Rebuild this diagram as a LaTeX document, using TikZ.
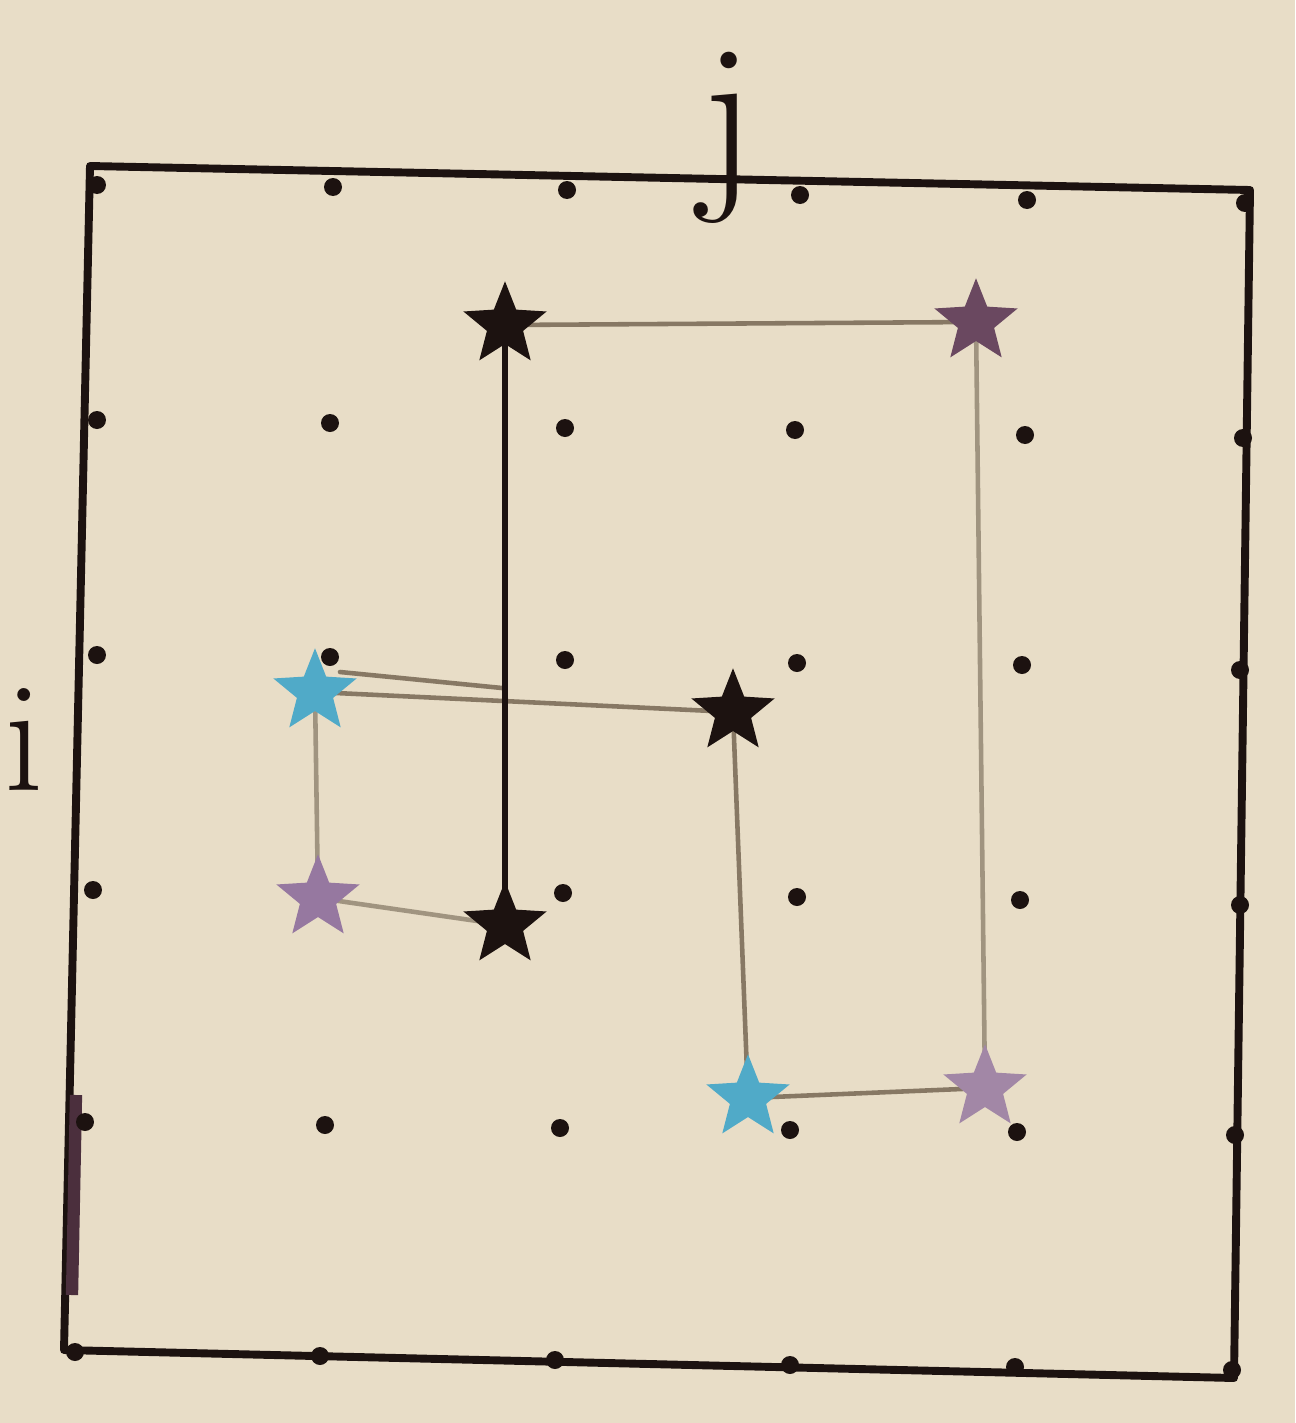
\documentclass[tikz,border=0pt]{standalone}
\usetikzlibrary{shapes.geometric}
\definecolor{paper}{RGB}{232,221,199}
\definecolor{ink}{RGB}{28,18,16}
\definecolor{pencil}{RGB}{135,120,100}
\definecolor{lightpencil}{RGB}{160,148,128}
\definecolor{cyanstar}{RGB}{80,170,200}
\definecolor{purplestar}{RGB}{150,120,160}
\definecolor{darkpurple}{RGB}{95,60,80}
\begin{document}
\begin{tikzpicture}[x=0.02cm,y=-0.02cm,
  dot/.style={circle,fill=ink,inner sep=0pt,minimum size=0.36cm},
  mark/.style={star,star points=5,star point ratio=2.3,inner sep=0pt,minimum size=1.75cm,fill=#1},
  outer/.style={draw=ink,line width=4.5pt,line join=round,line cap=round},
  inner/.style={draw=pencil,line width=2.6pt,line cap=round},
  label/.style={text=ink,inner sep=0pt,anchor=base}]
\fill[paper] (0,0) rectangle (1295,1423);
\useasboundingbox (0,0) rectangle (1295,1423);
% outer square
\coordinate (o1) at (90,166);
\coordinate (o2) at (1250,190);
\coordinate (o3) at (1234,1378);
\coordinate (o4) at (64,1350);
\draw[outer] (o1) -- (o2) -- (o3) -- (o4) -- cycle;
\coordinate (l1) at (76,1095);
\coordinate (l2) at (72,1295);
\draw[draw=darkpurple!70!ink,line width=7pt] (l1) -- (l2);
% grid dots
\foreach \x/\y/\n in {
  97/185/11,333/187/12,567/190/13,800/195/14,1027/200/15,1245/203/16,
  97/420/21,330/423/22,565/428/23,795/430/24,1025/435/25,1243/438/26,
  97/655/31,330/657/32,565/660/33,797/663/34,1022/665/35,1240/670/36,
  93/890/41,330/893/42,563/893/43,797/897/44,1020/900/45,1240/905/46,
  85/1122/51,325/1125/52,560/1128/53,790/1130/54,1017/1132/55,1235/1135/56,
  75/1352/61,320/1356/62,555/1360/63,790/1365/64,1015/1367/65,1232/1370/66}
  \node[dot] (d\n) at (\x,\y) {};
% labels
\node[label,font=\fontsize{115}{115}\selectfont] (lj) at (728,182) {j};
\node[label,font=\fontsize{90}{90}\selectfont] (li) at (24,790) {i};
% connectors
\path (505,325) coordinate (A) (976,322) coordinate (B) (985,1088) coordinate (C)
      (748,1098) coordinate (D) (733,712) coordinate (E) (315,692) coordinate (F)
      (318,898) coordinate (G) (505,925) coordinate (H);
\coordinate (X) at (502,688);
\coordinate (F2) at (340,672);
\draw[inner] (A) -- (B);
\draw[inner,draw=lightpencil] (B) -- (C);
\draw[inner] (C) -- (D);
\draw[inner] (D) -- (E);
\draw[inner] (F) -- (E);
\draw[inner] (F2) -- (X);
\draw[inner,draw=lightpencil] (F) -- (G);
\draw[inner,draw=lightpencil] (G) -- (H);
\draw[draw=ink,line width=3.6pt] (H) -- (A);
% star marks
\node[mark=ink] (sA) at (A) {};
\node[mark=darkpurple!80!purplestar] (sB) at (B) {};
\node[mark=purplestar!85!paper] (sC) at (C) {};
\node[mark=cyanstar] (sD) at (D) {};
\node[mark=ink] (sE) at (E) {};
\node[mark=cyanstar] (sF) at (F) {};
\node[mark=purplestar] (sG) at (G) {};
\node[mark=ink] (sH) at (H) {};
\end{tikzpicture}
\end{document}
